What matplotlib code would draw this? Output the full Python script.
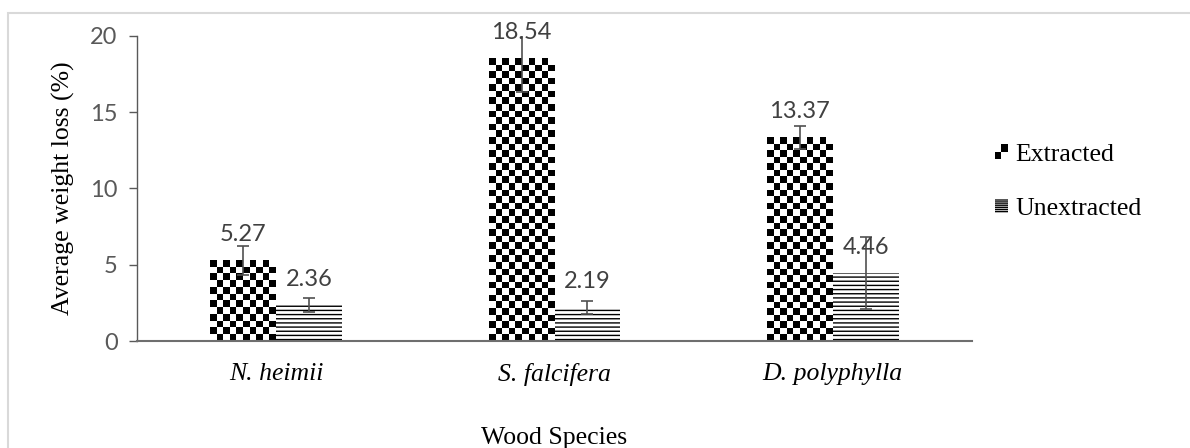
import numpy as np
import matplotlib
matplotlib.use("Agg")
import matplotlib.pyplot as plt
from matplotlib.patches import Rectangle, Patch
from matplotlib.legend_handler import HandlerBase

# ── data ──────────────────────────────────────────────────────────────
species = ["N. heimii", "S. falcifera", "D. polyphylla"]
extracted = [5.27, 18.54, 13.37]
unextracted = [2.36, 2.19, 4.46]
extracted_err = [0.97, 2.2, 0.75]
unextracted_err = [0.43, 0.45, 2.36]
series_names = ["Extracted", "Unextracted"]
yticks = [0, 5, 10, 15, 20]

SERIF = "Liberation Serif"
SANS = "Lato"
FS = 18.5

fig = plt.figure(figsize=(11.9, 4.48), dpi=100)
fig.add_artist(Rectangle((8 / 1190, -0.1), 1.2, 1 - 13 / 448 + 0.1,
                         transform=fig.transFigure, fill=False,
                         edgecolor="#d9d9d9", linewidth=1.5))

ax = fig.add_axes([137 / 1190, 1 - 341 / 448, 835 / 1190, 305 / 448])
ax.set_xlim(-0.5, 2.5)
ax.set_ylim(0, 20)

x = np.arange(len(species))
w = 0.237

bars_e = ax.bar(x - w / 2, extracted, w, color="white", linewidth=0, zorder=2)
bars_u = ax.bar(x + w / 2, unextracted, w, color="white", hatch="----",
                linewidth=0, zorder=2)


def checker_fill(rect, cell_px=6.5):
    x0, y0 = rect.get_x(), rect.get_y()
    bw, bh = rect.get_width(), rect.get_height()
    (px0, py0), (px1, py1) = ax.transData.transform([(x0, y0), (x0 + bw, y0 + bh)])
    nx = max(1, int(round((px1 - px0) / cell_px)))
    ny = max(1, int(round((py1 - py0) / cell_px)))
    grid = np.add.outer(np.arange(ny), np.arange(nx)) % 2
    ax.imshow(grid, cmap="gray", vmin=0, vmax=1, extent=(x0, x0 + bw, y0, y0 + bh),
              interpolation="nearest", aspect="auto", origin="upper", zorder=2.5)


for r in bars_e:
    checker_fill(r)

ekw = dict(fmt="none", ecolor="#505050", elinewidth=1.2, capsize=4.5,
           capthick=1.2, zorder=4)
ax.errorbar(x - w / 2, extracted, yerr=extracted_err, **ekw)
ax.errorbar(x + w / 2, unextracted, yerr=unextracted_err, **ekw)

for xs, vals in ((x - w / 2, extracted), (x + w / 2, unextracted)):
    for xi, v in zip(xs, vals):
        ax.annotate(f"{v:.2f}", (xi, v), xytext=(0, 14), textcoords="offset points",
                    ha="center", va="baseline", fontsize=17, family=SANS,
                    color="#404040", zorder=5)

ax.set_xlim(-0.5, 2.5)
ax.set_ylim(0, 20)

# ── axes styling ──────────────────────────────────────────────────────
for s in ("top", "right"):
    ax.spines[s].set_visible(False)
ax.spines["left"].set_color("#595959")
ax.spines["bottom"].set_color("#6e6e6e")
ax.spines["left"].set_linewidth(1.0)
ax.spines["bottom"].set_linewidth(1.5)

ax.set_yticks(yticks)
ax.tick_params(axis="y", direction="out", length=6, width=1.0, color="#595959",
               labelsize=17, labelcolor="#595959", pad=8)
for t in ax.get_yticklabels():
    t.set_family(SANS)

ax.set_xticks(x)
ax.set_xticklabels(species, family=SERIF, style="italic", fontsize=FS)
ax.tick_params(axis="x", length=0, pad=16)

ax.set_ylabel("Average weight loss (%)", family=SERIF, fontsize=FS)
ax.yaxis.set_label_coords(-0.0743, 0.5)
ax.set_xlabel("Wood Species", family=SERIF, fontsize=FS, labelpad=29)


# ── legend ────────────────────────────────────────────────────────────
class CheckerHandler(HandlerBase):
    def create_artists(self, legend, orig_handle, xdescent, ydescent,
                       width, height, fontsize, trans):
        arts = []
        n = 2
        cw, ch = width / n, height / n
        arts.append(Rectangle((-xdescent, -ydescent), width, height,
                              facecolor="white", edgecolor="none", transform=trans))
        for i in range(n):
            for j in range(n):
                if (i + j) % 2 == 0:
                    arts.append(Rectangle((-xdescent + i * cw, -ydescent + j * ch), cw, ch,
                                          facecolor="black", edgecolor="none",
                                          transform=trans))
        return arts


h_e = Patch(facecolor="white", label=series_names[0])
h_u = Patch(facecolor="white", hatch="--------", linewidth=0, label=series_names[1])
fig.legend([h_e, h_u], series_names, handler_map={h_e: CheckerHandler()},
           loc="center left", bbox_to_anchor=(995 / 1190, 1 - 182 / 448),
           frameon=False, borderpad=0, borderaxespad=0, handlelength=0.5,
           handleheight=0.5, handletextpad=0.3, labelspacing=1.25,
           prop={"family": SERIF, "size": FS})

fig.savefig("out.png", dpi=100)
